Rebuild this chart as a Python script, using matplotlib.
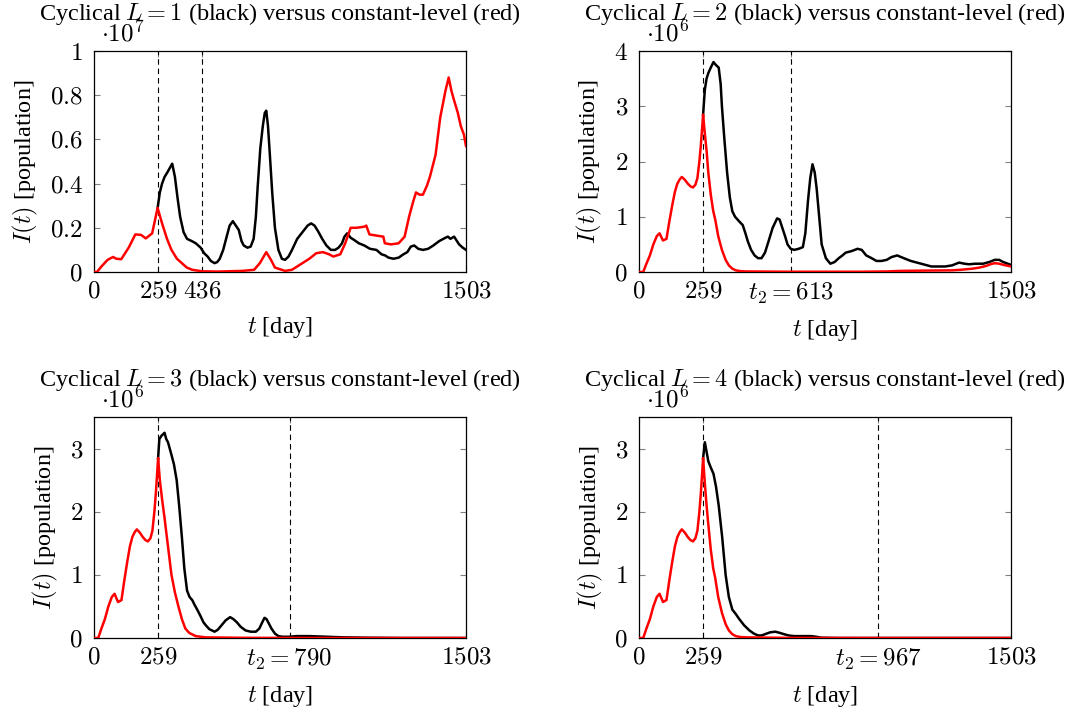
import numpy as np
import matplotlib
matplotlib.use("Agg")
import matplotlib.pyplot as plt

plt.rcParams["font.family"] = ["Liberation Serif", "DejaVu Serif"]
plt.rcParams["mathtext.fontset"] = "cm"

# values, I(t) in millions, t in days
# panel 1 (L = 1)
t1_red = [0, 12, 30, 55, 77, 90, 110, 140, 167, 190, 209, 235, 257, 275, 295, 313, 335, 355, 375, 397, 438, 500, 600, 647, 670, 696, 715, 731, 772, 800, 828, 870, 898, 925, 950, 967, 995, 1015, 1037, 1060, 1092, 1100, 1113, 1140, 1169, 1175, 1200, 1231, 1255, 1273, 1290, 1301, 1315, 1329, 1345, 1357, 1380, 1399, 1420, 1433, 1444, 1454, 1470, 1482, 1495, 1503]
i1_red = [0, 0, 0.25, 0.55, 0.68, 0.6, 0.58, 1.1, 1.7, 1.68, 1.52, 1.75, 2.9, 2.2, 1.5, 1.0, 0.6, 0.4, 0.2, 0.1, 0.03, 0.02, 0.05, 0.1, 0.4, 0.9, 0.55, 0.2, 0.05, 0.1, 0.3, 0.6, 0.85, 0.9, 0.8, 0.7, 0.8, 1.3, 2.0, 2.0, 2.05, 2.1, 1.7, 1.65, 1.6, 1.3, 1.25, 1.3, 1.6, 2.5, 3.2, 3.6, 3.5, 3.5, 3.9, 4.3, 5.3, 7.0, 8.2, 8.8, 8.2, 7.8, 7.2, 6.6, 6.2, 5.7]
t1_black = [257, 266, 275, 285, 296, 306, 316, 327, 337, 348, 362, 376, 395, 411, 431, 445, 459, 472, 487, 498, 508, 522, 536, 548, 561, 573, 585, 596, 605, 620, 633, 645, 654, 661, 672, 682, 690, 696, 703, 710, 720, 731, 745, 759, 772, 786, 800, 821, 835, 849, 863, 877, 891, 905, 922, 939, 957, 974, 988, 1002, 1012, 1023, 1037, 1051, 1070, 1092, 1115, 1141, 1162, 1176, 1190, 1210, 1231, 1250, 1266, 1280, 1294, 1310, 1329, 1350, 1371, 1395, 1420, 1430, 1440, 1455, 1475, 1490, 1503]
i1_black = [2.9, 3.6, 4.0, 4.3, 4.5, 4.7, 4.9, 4.3, 3.4, 2.5, 1.8, 1.5, 1.4, 1.3, 1.1, 0.85, 0.7, 0.5, 0.4, 0.45, 0.6, 1.0, 1.6, 2.1, 2.3, 2.1, 1.9, 1.4, 1.2, 1.1, 1.15, 1.5, 2.5, 3.8, 5.6, 6.6, 7.2, 7.3, 6.6, 5.4, 3.6, 2.0, 1.0, 0.6, 0.55, 0.7, 1.0, 1.5, 1.7, 1.9, 2.1, 2.2, 2.1, 1.85, 1.5, 1.2, 1.0, 1.0, 1.1, 1.3, 1.6, 1.75, 1.55, 1.45, 1.3, 1.2, 1.05, 1.0, 0.8, 0.75, 0.65, 0.6, 0.65, 0.8, 0.9, 1.15, 1.2, 1.05, 1.0, 1.05, 1.2, 1.4, 1.55, 1.6, 1.5, 1.6, 1.25, 1.1, 1.0]

# panel 2 (L = 2)
t2_red = [0, 17, 30, 44, 58, 72, 83, 97, 111, 122, 134, 145, 155, 165, 173, 185, 197, 208, 218, 228, 236, 244, 250, 255, 259, 266, 273, 280, 290, 300, 308, 320, 335, 350, 363, 377, 391, 410, 433, 600, 900, 1000, 1057, 1150, 1265, 1300, 1347, 1375, 1403, 1420, 1437, 1455, 1472, 1503]
i2_red = [0, 0, 0.15, 0.3, 0.5, 0.65, 0.7, 0.57, 0.6, 0.9, 1.2, 1.45, 1.6, 1.68, 1.72, 1.67, 1.6, 1.55, 1.53, 1.58, 1.7, 2.0, 2.3, 2.6, 2.85, 2.5, 2.2, 1.8, 1.4, 1.1, 0.95, 0.65, 0.4, 0.22, 0.12, 0.06, 0.03, 0.015, 0.01, 0.005, 0.005, 0.01, 0.02, 0.025, 0.03, 0.04, 0.06, 0.08, 0.11, 0.14, 0.16, 0.15, 0.13, 0.1]
t2_black = [259, 266, 273, 280, 290, 301, 310, 322, 330, 335, 345, 356, 367, 377, 388, 398, 408, 419, 430, 440, 453, 467, 481, 495, 509, 523, 540, 558, 568, 579, 590, 600, 613, 627, 645, 662, 672, 683, 692, 701, 710, 718, 728, 738, 755, 773, 790, 807, 822, 835, 860, 883, 900, 918, 940, 959, 980, 1001, 1020, 1043, 1070, 1098, 1140, 1181, 1210, 1237, 1265, 1293, 1315, 1334, 1360, 1390, 1415, 1437, 1455, 1472, 1490, 1503]
i2_black = [2.85, 3.3, 3.5, 3.6, 3.7, 3.8, 3.75, 3.7, 3.4, 3.0, 2.4, 1.8, 1.35, 1.1, 1.0, 0.95, 0.9, 0.85, 0.7, 0.55, 0.4, 0.3, 0.25, 0.25, 0.35, 0.55, 0.8, 0.97, 0.95, 0.8, 0.65, 0.5, 0.42, 0.4, 0.42, 0.45, 0.7, 1.3, 1.7, 1.95, 1.8, 1.5, 1.0, 0.5, 0.25, 0.15, 0.18, 0.25, 0.3, 0.35, 0.38, 0.42, 0.4, 0.3, 0.25, 0.2, 0.2, 0.22, 0.27, 0.3, 0.25, 0.2, 0.15, 0.1, 0.1, 0.1, 0.12, 0.17, 0.15, 0.14, 0.15, 0.15, 0.18, 0.22, 0.22, 0.18, 0.15, 0.13]

# panel 3 (L = 3)
t3_red = [0, 17, 30, 44, 58, 72, 83, 97, 111, 122, 134, 145, 155, 165, 173, 185, 197, 208, 218, 228, 236, 244, 250, 255, 259, 266, 275, 285, 299, 313, 327, 341, 355, 369, 385, 411, 450, 600, 1000, 1503]
i3_red = [0, 0, 0.15, 0.3, 0.5, 0.65, 0.7, 0.57, 0.6, 0.9, 1.2, 1.45, 1.6, 1.68, 1.72, 1.67, 1.6, 1.55, 1.53, 1.58, 1.7, 2.0, 2.3, 2.6, 2.85, 2.5, 2.2, 1.9, 1.45, 1.0, 0.72, 0.5, 0.3, 0.15, 0.08, 0.03, 0.01, 0.003, 0.0, 0.0]
t3_black = [259, 264, 272, 285, 292, 299, 306, 313, 323, 334, 344, 355, 365, 376, 386, 397, 407, 417, 430, 442, 452, 466, 487, 500, 515, 532, 550, 563, 577, 592, 612, 633, 654, 668, 680, 689, 697, 705, 717, 731, 745, 760, 786, 820, 870, 940, 1009, 1100, 1250, 1503]
i3_black = [2.85, 3.15, 3.2, 3.25, 3.15, 3.1, 3.0, 2.9, 2.75, 2.5, 2.1, 1.6, 1.1, 0.75, 0.65, 0.6, 0.52, 0.45, 0.35, 0.25, 0.2, 0.14, 0.1, 0.13, 0.2, 0.28, 0.33, 0.3, 0.25, 0.18, 0.12, 0.1, 0.1, 0.15, 0.25, 0.32, 0.3, 0.24, 0.15, 0.07, 0.03, 0.02, 0.02, 0.03, 0.03, 0.02, 0.01, 0.005, 0.0, 0.0]

# panel 4 (L = 4)
t4_red = [0, 17, 30, 44, 58, 72, 83, 97, 111, 122, 134, 145, 155, 165, 173, 185, 197, 208, 218, 228, 236, 244, 250, 255, 259, 266, 273, 280, 290, 300, 308, 320, 335, 350, 363, 377, 391, 410, 433, 600, 1000, 1503]
i4_red = [0, 0, 0.15, 0.3, 0.5, 0.65, 0.7, 0.57, 0.6, 0.9, 1.2, 1.45, 1.6, 1.68, 1.72, 1.67, 1.6, 1.55, 1.53, 1.58, 1.7, 2.0, 2.3, 2.6, 2.85, 2.45, 2.1, 1.8, 1.4, 1.1, 0.95, 0.65, 0.4, 0.22, 0.12, 0.06, 0.03, 0.015, 0.01, 0.002, 0.0, 0.0]
t4_black = [259, 266, 273, 280, 290, 301, 311, 322, 336, 350, 363, 377, 391, 405, 425, 446, 464, 481, 495, 509, 530, 551, 570, 586, 605, 627, 660, 696, 715, 738, 800, 1000, 1503]
i4_black = [2.85, 3.1, 2.95, 2.8, 2.7, 2.6, 2.4, 2.1, 1.6, 1.0, 0.65, 0.45, 0.38, 0.3, 0.2, 0.12, 0.07, 0.04, 0.04, 0.06, 0.09, 0.1, 0.08, 0.06, 0.04, 0.03, 0.03, 0.03, 0.02, 0.005, 0.0, 0.0, 0.0]

levels = [1, 2, 3, 4]
t_switch = [436, 613, 790, 967]
switch_labels = ["$436$", "$t_2 = 613$", "$t_2 = 790$", "$t_2 = 967$"]
ymax = [1e7, 4e6, 3.5e6, 3.5e6]
ytick_vals = [[0, 0.2e7, 0.4e7, 0.6e7, 0.8e7, 1e7], [0, 1e6, 2e6, 3e6, 4e6], [0, 1e6, 2e6, 3e6], [0, 1e6, 2e6, 3e6]]
ytick_labels = [["$0$", "$0.2$", "$0.4$", "$0.6$", "$0.8$", "$1$"], ["$0$", "$1$", "$2$", "$3$", "$4$"], ["$0$", "$1$", "$2$", "$3$"], ["$0$", "$1$", "$2$", "$3$"]]
exponents = ["$\\cdot 10^7$", "$\\cdot 10^6$", "$\\cdot 10^6$", "$\\cdot 10^6$"]

reds = [(t1_red, i1_red), (t2_red, i2_red), (t3_red, i3_red), (t4_red, i4_red)]
blacks = [(t1_black, i1_black), (t2_black, i2_black), (t3_black, i3_black), (t4_black, i4_black)]

W, H = 1077, 713
fig = plt.figure(figsize=(W / 100, H / 100), dpi=100)
boxes = [(94, 51), (639, 51), (94, 417), (639, 417)]
aw, ah = 372, 221

for k in range(4):
    x0, y0 = boxes[k]
    ax = fig.add_axes([x0 / W, 1 - (y0 + ah) / H, aw / W, ah / H])
    tb, ib = blacks[k]
    tr, ir = reds[k]
    ax.plot(tb, np.array(ib) * 1e6, color="black", lw=1.8, zorder=3)
    ax.plot(tr, np.array(ir) * 1e6, color="red", lw=1.8, zorder=4)
    for tv in [259, t_switch[k]]:
        ax.axvline(tv, color="black", lw=0.8, dashes=(5, 3.5), zorder=2)
    ax.set_xlim(0, 1503)
    ax.set_ylim(0, ymax[k])
    ax.set_xticks([0, 259, t_switch[k], 1503])
    ax.set_xticklabels(["$0$", "$259$", switch_labels[k], "$1503$"])
    ax.set_yticks(ytick_vals[k])
    ax.set_yticklabels(ytick_labels[k])
    ax.tick_params(axis="both", direction="in", length=4, width=0.8, color="0.5",
                   top=True, right=True, labelsize=18)
    ax.tick_params(axis="x", pad=6)
    ax.tick_params(axis="y", pad=8)
    for s in ax.spines.values():
        s.set_linewidth(0.9)
    ax.set_xlabel("$t$ [day]", fontsize=17.5, labelpad=9)
    ax.set_ylabel("$I(t)$ [population]", fontsize=17.5, labelpad=7)
    ax.set_title("Cyclical $L = %d$ (black) versus constant-level (red)" % levels[k],
                 fontsize=17.5, pad=22)
    ax.text(0.02, 1.02, exponents[k], transform=ax.transAxes, fontsize=18,
            ha="left", va="bottom")

fig.savefig("out.png", dpi=100)
